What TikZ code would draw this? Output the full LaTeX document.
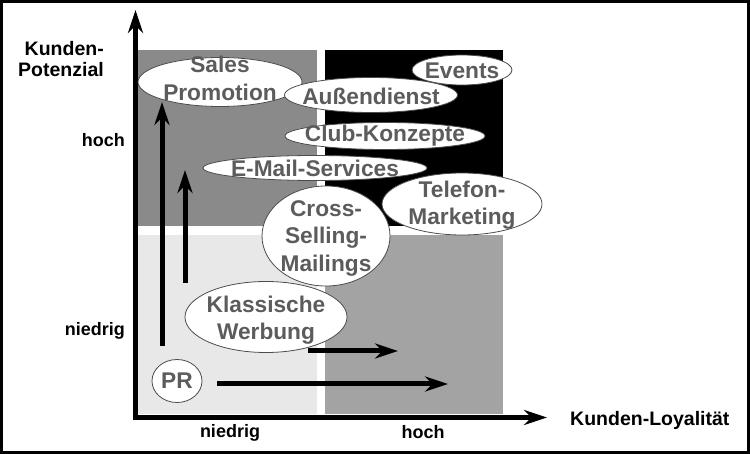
\documentclass[tikz,border=0pt]{standalone}
\usepackage{fontspec}
\setmainfont{Liberation Sans}
\usepackage{xcolor}
\usepackage{tikz}
\usetikzlibrary{arrows.meta,shapes.geometric}

\definecolor{quadTL}{gray}{0.54}
\definecolor{quadBR}{gray}{0.64}
\definecolor{quadBL}{gray}{0.91}
\definecolor{bubbletextgray}{gray}{0.36}
\definecolor{bubbleline}{gray}{0.30}

\begin{document}
\begin{tikzpicture}[x=1pt, y=-1pt, >={Stealth[length=23pt, width=15pt]}, line join=miter]
  % Define styles
  \tikzstyle{bubble}=[ellipse, draw=bubbleline, fill=white, line width=0.8pt, inner sep=0pt]
  \tikzstyle{bubbletext}=[inner sep=0pt, align=center, text=bubbletextgray, font=\bfseries\fontsize{22.7}{27.5}\selectfont]
  \tikzstyle{axistitle}=[inner sep=0pt, align=right, font=\bfseries\fontsize{19.5}{21}\selectfont]
  \tikzstyle{axislevel}=[inner sep=0pt, font=\bfseries\fontsize{18}{20}\selectfont]
  \tikzstyle{axisline}=[line width=5pt]
  \tikzstyle{shiftarrow}=[line width=5pt]

  % Frame and quadrants
  \useasboundingbox (0,0) rectangle (750,454);
  \draw[line width=3pt] (1.5,1.5) rectangle (748.5,452.5);
  \fill[quadTL] (138,50)  rectangle (317,226);
  \fill[black]  (325,50)  rectangle (503,226);
  \fill[quadBL] (138,235) rectangle (317,414);
  \fill[quadBR] (325,235) rectangle (503,414);

  % Axes
  \coordinate (origin) at (135.5,417.5);
  \coordinate (ytip)   at (135.5,10);
  \coordinate (xtip)   at (547,417.5);
  \draw[axisline, <->] (ytip) -- (origin) -- (xtip);

  % Axis labels
  \node[axistitle, anchor=east]      (potenzial)  at (104,59)   {Kunden-\\Potenzial};
  \node[axistitle, anchor=base west] (loyalitaet) at (570,425)  {Kunden-Loyalität};
  \node[axislevel, anchor=base east] (yhigh)      at (125,147)  {hoch};
  \node[axislevel, anchor=base east] (ylow)       at (125,336)  {niedrig};
  \node[axislevel, anchor=base]      (xlow)       at (230,437)  {niedrig};
  \node[axislevel, anchor=base]      (xhigh)      at (423,438)  {hoch};

  % Shift arrows
  \coordinate (vlongS)  at (162,346);
  \coordinate (vlongE)  at (162,102);
  \coordinate (vshortS) at (185,283);
  \coordinate (vshortE) at (185,170);
  \coordinate (hupS)    at (308,351);
  \coordinate (hupE)    at (398,351);
  \coordinate (hlowS)   at (217,384);
  \coordinate (hlowE)   at (448,384);
  \draw[shiftarrow, ->] (vlongS)  -- (vlongE);
  \draw[shiftarrow, ->] (vshortS) -- (vshortE);
  \draw[shiftarrow, ->] (hupS)    -- (hupE);
  \draw[shiftarrow, ->] (hlowS)   -- (hlowE);

  % Bubbles
  \node[bubble, minimum width=100pt, minimum height=30pt] (events) at (462,70) {};
  \node[bubbletext, yshift=-1pt] (eventstxt) at (events) {Events};
  \node[bubble, minimum width=164pt, minimum height=49pt] (sales) at (220,82) {};
  \node[bubbletext, yshift=3.5pt] (salestxt) at (sales) {Sales\\Promotion};
  \node[bubble, minimum width=173pt, minimum height=35pt] (aussen) at (371,95) {};
  \node[bubbletext, yshift=-1.5pt] (aussentxt) at (aussen) {Außendienst};
  \node[bubble, minimum width=200pt, minimum height=27pt] (club) at (385,136) {};
  \node[bubbletext] (clubtxt) at (club) {Club-Konzepte};
  \node[bubble, minimum width=224pt, minimum height=25pt] (email) at (315,168) {};
  \node[bubbletext] (emailtxt) at (email) {E-Mail-Services};
  \node[bubble, minimum width=160pt, minimum height=62pt] (telefon) at (462,204) {};
  \node[bubbletext, yshift=-1pt] (telefontxt) at (telefon) {Telefon-\\Marketing};
  \node[bubble, minimum width=128pt, minimum height=100pt] (cross) at (326,236) {};
  \node[bubbletext, yshift=-2pt] (crosstxt) at (cross) {Cross-\\Selling-\\Mailings};
  \node[bubble, minimum width=162pt, minimum height=71pt] (klassisch) at (266,317) {};
  \node[bubbletext, yshift=-3pt] (klassischtxt) at (klassisch) {Klassische\\Werbung};
  \node[bubble, minimum width=50pt, minimum height=43pt] (pr) at (177,381) {};
  \node[bubbletext] (prtxt) at (pr) {PR};
\end{tikzpicture}
\end{document}
